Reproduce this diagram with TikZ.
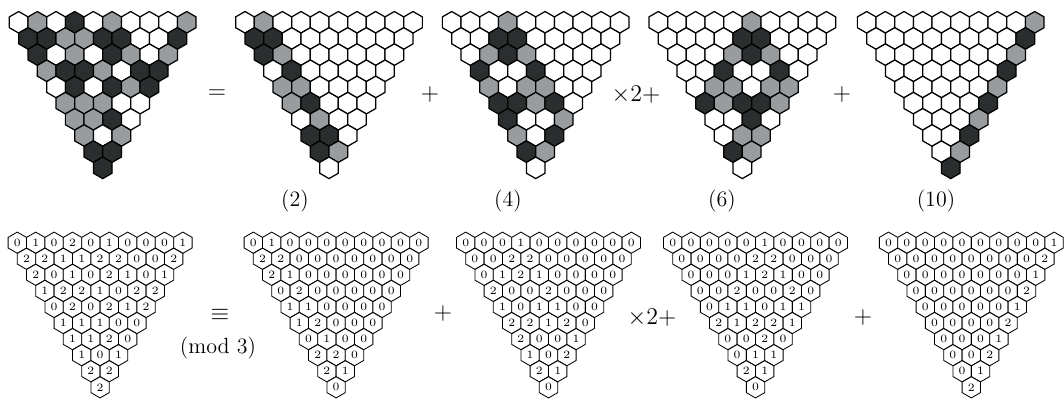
\documentclass[tikz,border=0pt]{standalone}
\usepackage{tikz}
\usetikzlibrary{shapes.geometric}

\definecolor{celldark}{HTML}{2B2E2E}
\definecolor{cellgrey}{HTML}{999C9F}

\tikzset{
    hexcell/.style={regular polygon, regular polygon sides=6, shape border rotate=30, draw, inner sep=0pt, outer sep=0pt},
    solidhex/.style={hexcell, minimum size=10.78pt, line width=0.62pt},
    digithex/.style={hexcell, minimum size=10.6pt, line width=0.42pt, fill=white, font=\fontsize{5.6}{6}\selectfont},
    cell0/.style={fill=white},
    cell1/.style={fill=cellgrey},
    cell2/.style={fill=celldark},
    sign/.style={font=\fontsize{12}{14}\selectfont, inner sep=0pt},
    caption/.style={font=\fontsize{11}{13}\selectfont, inner sep=0pt}
}

\newcommand{\sumrows}{{0,1,0,2,0,1,0,0,0,1},{2,2,1,1,2,2,0,0,2},{2,0,1,0,2,1,0,1},{1,2,2,1,0,2,2},{0,2,0,2,1,2},{1,1,1,0,0},{1,1,2,0},{1,0,1},{2,2},{2}}
\newcommand{\twrows}{{0,1,0,0,0,0,0,0,0,0},{2,2,0,0,0,0,0,0,0},{2,1,0,0,0,0,0,0},{0,2,0,0,0,0,0},{1,1,0,0,0,0},{1,2,0,0,0},{0,1,0,0},{2,2,0},{2,1},{0}}
\newcommand{\frrows}{{0,0,0,1,0,0,0,0,0,0},{0,0,2,2,0,0,0,0,0},{0,1,2,1,0,0,0,0},{2,0,0,2,0,0,0},{1,0,1,1,0,0},{2,2,1,2,0},{2,0,0,1},{1,0,2},{2,1},{0}}
\newcommand{\sxrows}{{0,0,0,0,0,1,0,0,0,0},{0,0,0,0,2,2,0,0,0},{0,0,0,1,2,1,0,0},{0,0,2,0,0,2,0},{0,1,1,0,1,1},{2,1,2,2,1},{0,0,2,0},{0,1,1},{2,1},{0}}
\newcommand{\tnrows}{{0,0,0,0,0,0,0,0,0,1},{0,0,0,0,0,0,0,0,2},{0,0,0,0,0,0,0,1},{0,0,0,0,0,0,2},{0,0,0,0,0,1},{0,0,0,0,2},{0,0,0,1},{0,0,2},{0,1},{2}}

% name, x, y, rows
\newcommand{\solidtri}[4]{
    \foreach \hexrow [count=\r from 0] in #4 {
        \foreach \val [count=\c from 0] in \hexrow {
            \node[solidhex, cell\val] (#1-\r-\c) at ({#2+(\c+\r/2)*18.67}, {#3+\r*16.17}) {};
        }
    }
}
\newcommand{\digittri}[4]{
    \foreach \hexrow [count=\r from 0] in #4 {
        \foreach \val [count=\c from 0] in \hexrow {
            \node[digithex] (#1-\r-\c) at ({#2+(\c+\r/2)*18.4}, {#3+\r*16.07}) {\val};
        }
    }
}

\begin{document}
\begin{tikzpicture}[x=0.5pt, y=-0.5pt]
    \useasboundingbox (0, 0) rectangle (1064, 399);
    \solidtri{sa}{18.7}{22.3}{\sumrows}
    \solidtri{sb}{245}{22.3}{\twrows}
    \solidtri{sc}{451.7}{22.3}{\frrows}
    \solidtri{sd}{658.3}{22.3}{\sxrows}
    \solidtri{se}{866.7}{22.3}{\tnrows}
    \digittri{da}{17.3}{242.7}{\sumrows}
    \digittri{db}{253.3}{242.7}{\twrows}
    \digittri{dc}{465.7}{242.7}{\frrows}
    \digittri{dd}{672.7}{242.7}{\sxrows}
    \digittri{de}{888.5}{242.7}{\tnrows}
    \node[sign] (eqs) at (217, 94) {$=$};
    \node[sign] (pls) at (430, 95) {$+$};
    \node[sign] (tws) at (636, 95) {$\times 2+$};
    \node[sign] (plt) at (842, 95) {$+$};
    \node[caption] (two) at (295, 201) {(2)};
    \node[caption] (four) at (508, 201) {(4)};
    \node[caption] (six) at (722, 201) {(6)};
    \node[caption] (ten) at (936, 201) {(10)};
    \node[sign] (eqv) at (220, 315) {$\equiv$};
    \node[caption] (mod) at (218, 348) {(mod 3)};
    \node[sign] (plu) at (443, 314) {$+$};
    \node[sign] (twu) at (652, 318) {$\times 2+$};
    \node[sign] (plv) at (863, 318) {$+$};
\end{tikzpicture}
\end{document}
